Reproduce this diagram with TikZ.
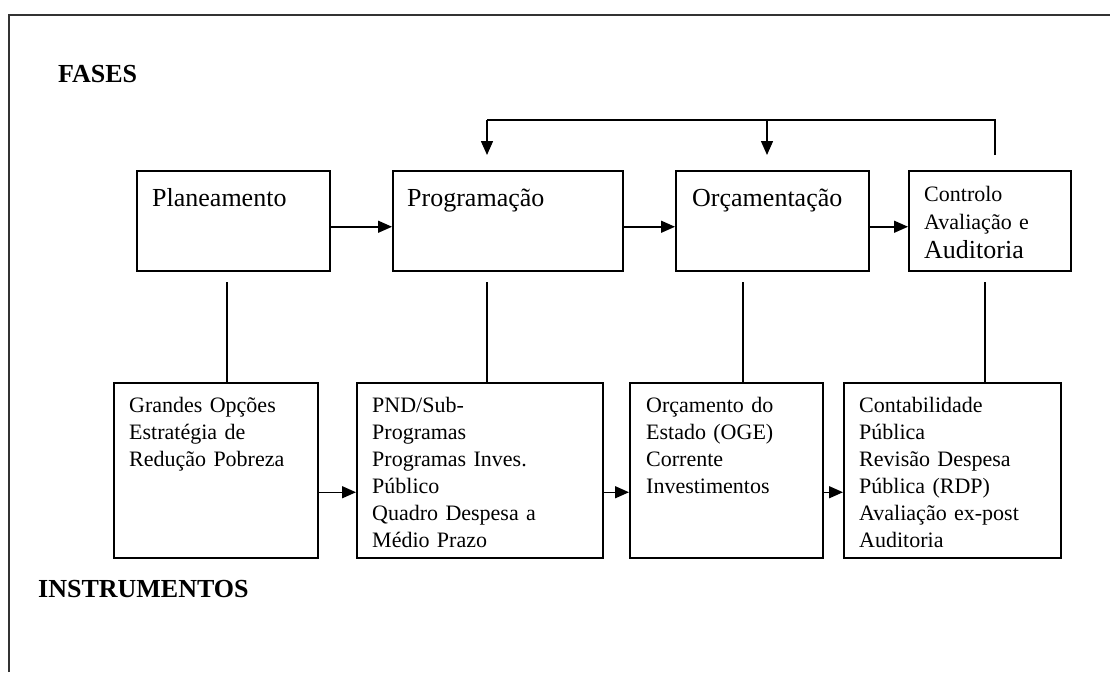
\documentclass[tikz,border=0pt]{standalone}
\usepackage{fontspec}
\setmainfont{Liberation Serif}
\usetikzlibrary{arrows.meta}

\tikzset{
  phasebox/.style={draw=black, line width=1.5pt, anchor=north west, inner sep=0pt,
                   minimum height=100pt},
  instbox/.style={draw=black, line width=1.5pt, anchor=north west, inner sep=0pt,
                  minimum height=175pt},
  phasetext/.style={anchor=base west, inner sep=0pt, text width=200pt, align=left,
                    font=\fontsize{26}{30}\selectfont},
  insttext/.style={anchor=base west, inner sep=0pt, text width=230pt, align=left,
                   font=\fontsize{22}{27}\selectfont},
  heading/.style={anchor=base west, inner sep=0pt, font=\fontsize{26}{30}\selectfont\bfseries},
  link/.style={line width=1.5pt},
  flow/.style={line width=1.5pt, -{Triangle[length=14pt,width=12pt]}}
}

\begin{document}
\begin{tikzpicture}[x=1pt, y=-1pt]
\useasboundingbox (0,0) rectangle (1110,672);

% outer frame (open to the right and bottom)
\draw[line width=2pt, black!80] (9,672) -- (9,15) -- (1110,15);

% headings
\node[heading] (fases) at (58,82) {FASES};
\node[heading] (instr) at (38,597) {INSTRUMENTOS};

% phase boxes
\node[phasebox, minimum width=193pt] (plan) at (136,170) {};
\node[phasebox, minimum width=230pt] (prog) at (392,170) {};
\node[phasebox, minimum width=193pt] (orc)  at (675,170) {};
\node[phasebox, minimum width=162pt] (ctrl) at (908,170) {};

\node[phasetext] (plant) at (152,206) {Planeamento};
\node[phasetext] (progt) at (407,206) {Programação};
\node[phasetext] (orct)  at (692,206) {Orçamentação};
\node[anchor=base west, inner sep=0pt, text width=140pt, align=left,
      font=\fontsize{22}{28.5}\selectfont] (ctrlt) at (924,201)
  {Controlo\\Avaliação e\\{\fontsize{26}{28.5}\selectfont Auditoria}};

% instrument boxes
\node[instbox, minimum width=204pt] (gop) at (113,382) {};
\node[instbox, minimum width=246pt] (pnd) at (356,382) {};
\node[instbox, minimum width=193pt] (oge) at (629,382) {};
\node[instbox, minimum width=217pt] (cp)  at (843,382) {};

\node[insttext] (gopt) at (129,412) {Grandes Opções\\Estratégia de\\Redução Pobreza};
\node[insttext] (pndt) at (372,412) {PND/Sub-\\Programas\\Programas Inves.\\Público\\Quadro Despesa a\\Médio Prazo};
\node[insttext] (oget) at (646,412) {Orçamento do\\Estado (OGE)\\Corrente\\Investimentos};
\node[insttext] (cpt)  at (859,412) {Contabilidade\\Pública\\Revisão Despesa\\Pública (RDP)\\Avaliação ex-post\\Auditoria};

% flow between phases
\draw[flow] ([yshift=-6pt]plan.east) -- ([yshift=-6pt]prog.west);
\draw[flow] ([yshift=-6pt]prog.east) -- ([yshift=-6pt]orc.west);
\draw[flow] ([yshift=-6pt]orc.east)  -- ([yshift=-6pt]ctrl.west);

% flow between instruments
\draw[flow] ([yshift=-22pt]gop.east) -- ([yshift=-22pt]pnd.west);
\draw[flow] ([yshift=-22pt]pnd.east) -- ([yshift=-22pt]oge.west);
\draw[flow] ([yshift=-22pt]oge.east) -- ([yshift=-22pt]cp.west);

% feedback loop from control back to programming and budgeting
\coordinate (fbstart) at (995,155);
\coordinate (fbprog)  at (487,155);
\coordinate (fborc)   at (767,155);
\draw[link] (fbstart) -- (995,120) -- (487,120);
\draw[flow] (487,120) -- (fbprog);
\draw[flow] (767,120) -- (fborc);

% phase to instrument links
\coordinate (l1) at (227,282);
\coordinate (l2) at (487,282);
\coordinate (l3) at (743,282);
\coordinate (l4) at (985,282);
\draw[link] (l1) -- (l1 |- gop.north);
\draw[link] (l2) -- (l2 |- pnd.north);
\draw[link] (l3) -- (l3 |- oge.north);
\draw[link] (l4) -- (l4 |- cp.north);
\end{tikzpicture}
\end{document}
